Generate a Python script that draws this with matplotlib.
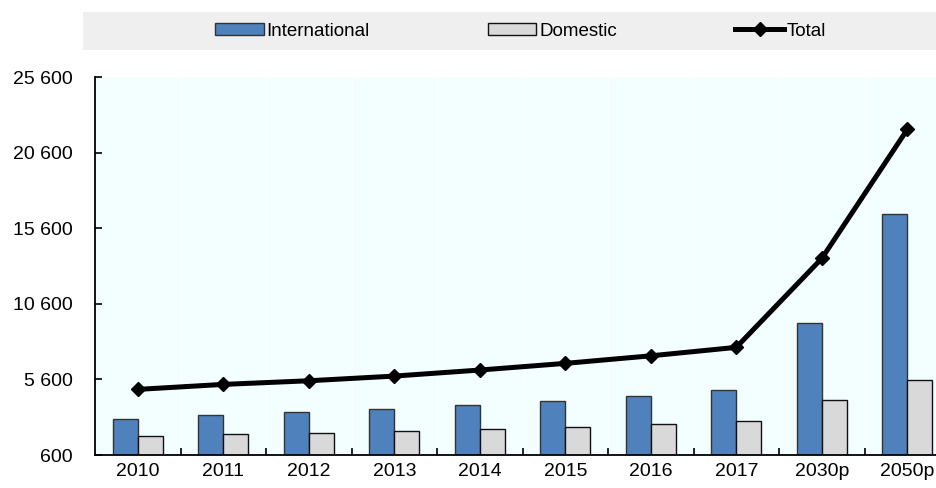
import matplotlib.pyplot as plt
import matplotlib.patches as mpatches
import numpy as np

plt.rcParams['font.family'] = ['Liberation Sans', 'DejaVu Sans']

years = ['2010', '2011', '2012', '2013', '2014', '2015', '2016', '2017', '2030p', '2050p']
international = [3000, 3220, 3460, 3640, 3890, 4170, 4480, 4880, 9350, 16530]
domestic = [1880, 1970, 2030, 2170, 2300, 2470, 2650, 2830, 4240, 5540]
total = [4940, 5270, 5510, 5820, 6220, 6660, 7160, 7720, 13600, 22130]
yticks = [600, 5600, 10600, 15600, 20600, 25600]

fig = plt.figure(figsize=(9.36, 4.88), dpi=100)
ax = fig.add_axes([0.1015, 0.0676, 0.9135, 0.7746])
ax.set_facecolor('#F2FEFF')

# grey legend band across the top
fig.patches.append(mpatches.Rectangle((0.089, 0.8975), 0.95, 0.078, transform=fig.transFigure,
                                      facecolor='#EFEFEF', edgecolor='none', zorder=0))

x = np.arange(len(years))
w = 0.29
b1 = ax.bar(x - w / 2, international, w, color='#4F81BD', edgecolor='#333333',
            linewidth=1.0, label='International', zorder=2)
b2 = ax.bar(x + w / 2, domestic, w, color='#D9D9D9', edgecolor='#111111',
            linewidth=1.0, label='Domestic', zorder=2)
l1, = ax.plot(x, total, color='black', lw=3.6, marker='D', markersize=7.5, label='Total', zorder=3)

# faint separators between categories
for b in np.arange(0.5, len(years) - 0.5, 1):
    ax.axvline(b, color='white', lw=1, zorder=1)

ax.set_xlim(-0.5, len(years) - 0.5)
ax.set_ylim(600, 25600)
ax.set_yticks(yticks)
ax.set_yticklabels([f'{v:,}'.replace(',', ' ') for v in yticks])
ax.set_xticks(x)
ax.set_xticklabels(years)
ax.set_xticks(np.arange(0.5, len(years) - 0.5, 1), minor=True)
ax.tick_params(axis='x', which='major', length=0, labelsize=14, pad=6)
ax.tick_params(axis='x', which='minor', direction='in', length=5, width=1.2)
ax.tick_params(axis='y', direction='in', length=5, width=1.2, labelsize=14, pad=16)

for s in ['top', 'right']:
    ax.spines[s].set_visible(False)
for s in ['left', 'bottom']:
    ax.spines[s].set_linewidth(1.3)

fig.legend([b1, b2, l1], ['International', 'Domestic', 'Total'],
           loc='center', bbox_to_anchor=(0.556, 0.936), ncol=3, frameon=False,
           fontsize=13.5, handlelength=2.6, handleheight=0.65, handletextpad=0.15,
           columnspacing=6.3)

fig.savefig('out.png', dpi=100)
